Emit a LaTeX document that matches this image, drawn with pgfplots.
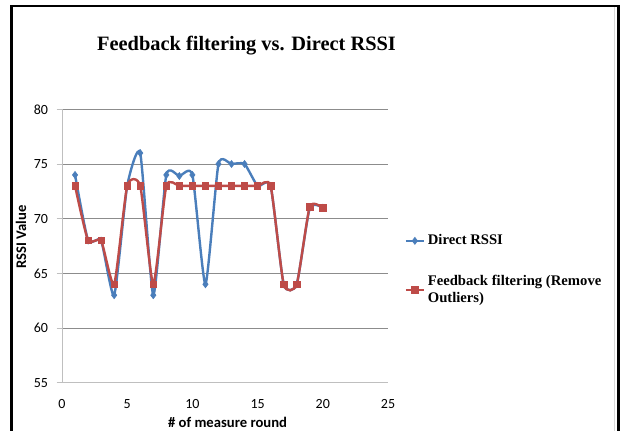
\documentclass[border=0pt]{standalone}
\usepackage{pgfplots}
\pgfplotsset{compat=1.18}
\usepackage{fontspec}
\setmainfont{Liberation Serif}
\newfontfamily\calibri{Carlito}
\definecolor{xlblue}{HTML}{4A7EBB}
\definecolor{xlred}{HTML}{BE4B48}
\definecolor{gridgray}{HTML}{8C8C8C}
\definecolor{axisgray}{HTML}{BFBFBF}
\begin{document}
\begin{tikzpicture}[x=0.75pt,y=0.75pt]
\useasboundingbox (0,0) rectangle (622,430);
\fill[white] (0,0) rectangle (622,430);
\draw[axisgray!60, line width=0.75pt] (614.5,-10) -- (614.5,423);
\draw[line width=1.6pt] (11.5,-10) -- (11.5,424) -- (618.5,424) -- (618.5,-10);
\node[font=\bfseries\fontsize{15.3}{18}\selectfont, anchor=base] at (246.5,379.3) {Feedback filtering vs. Direct RSSI};
\begin{axis}[
  at={(46.5pt,35.5pt)}, anchor=south west,
  scale only axis, width=244.5pt, height=205pt,
  xmin=0, xmax=25, ymin=55, ymax=80,
  xtick={0,5,...,25}, ytick={55,60,...,80},
  axis x line*=bottom, axis y line*=left,
  axis line style={axisgray, line width=0.75pt, -},
  ymajorgrids, grid style={gridgray, line width=0.75pt},
  major tick length=4pt,
  x tick style={draw=none},
  y tick style={axisgray, line width=0.75pt},
  tick align=outside,
  ticklabel style={font=\calibri\fontsize{10.5}{12}\selectfont},
  /pgf/number format/assume math mode=true,
  xticklabel style={yshift=-5pt},
  yticklabel style={xshift=-3pt},
  xlabel={\# of measure round},
  ylabel={RSSI Value},
  xlabel style={font=\calibri\bfseries\fontsize{11}{13}\selectfont, at={(axis description cs:0.508,-0.147)}, anchor=center},
  ylabel style={font=\calibri\bfseries\fontsize{11}{13}\selectfont, at={(axis description cs:-0.126,0.533)}, anchor=center, rotate=0},
  legend style={at={(axis description cs:1.05,0.552)}, anchor=north west, draw=none, fill=none,
    font=\bfseries\fontsize{11}{13}\selectfont, cells={align=left, anchor=west}, row sep=17pt, inner sep=0pt},
  legend image code/.code={\draw[mark repeat=2,mark phase=2] plot coordinates {(0cm,0cm) (0.24cm,0cm) (0.48cm,0cm)};},
]
\addplot[xlblue, line width=1.8pt, smooth, tension=0.33, mark=diamond*, mark size=2.6pt, mark options={solid, line width=0.5pt}]
coordinates {(1,74) (2,68) (3,68) (4,63) (5,73) (6,76) (7,63) (8,74) (9,73.9) (10,74) (11,64) (12,75) (13,75) (14,75) (15,73) (16,73) (17,64) (18,64) (19,71) (20,71)};
\addlegendentry{Direct RSSI}
\addplot[xlred, line width=1.8pt, smooth, tension=0.33, mark=square*, mark size=2.4pt, mark options={solid, line width=0.5pt}]
coordinates {(1,73) (2,68) (3,68) (4,64) (5,73) (6,73) (7,64) (8,73) (9,73) (10,73) (11,73) (12,73) (13,73) (14,73) (15,73) (16,73) (17,64) (18,64) (19,71.1) (20,71)};
\addlegendentry{Feedback filtering (Remove\\Outliers)}
\end{axis}
\end{tikzpicture}
\end{document}
